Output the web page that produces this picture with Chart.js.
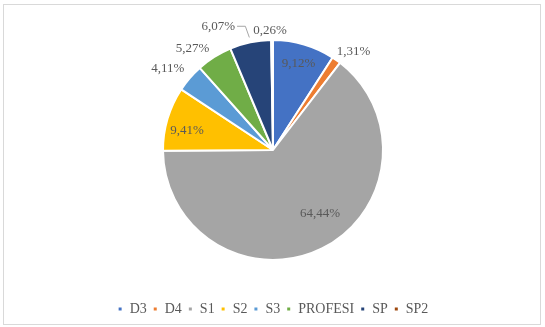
<!DOCTYPE html>
<html>
<head>
<meta charset="utf-8">
<script src="https://cdn.jsdelivr.net/npm/chart.js@4.4.1/dist/chart.umd.min.js"></script>
<style>
  html, body { margin: 0; padding: 0; background: #fff; }
  #wrap { position: relative; width: 545px; height: 327px; }
</style>
</head>
<body>
<div id="wrap"><canvas id="pie"></canvas></div>
<script>
// data
const categories = ['D3', 'D4', 'S1', 'S2', 'S3', 'PROFESI', 'SP', 'SP2'];
const shares = [9.12, 1.31, 64.44, 9.41, 4.11, 5.27, 6.07, 0.26];
const shareLabels = ['9,12%', '1,31%', '64,44%', '9,41%', '4,11%', '5,27%', '6,07%', '0,26%'];

const colors = ['#4472C4', '#ED7D31', '#A5A5A5', '#FFC000', '#5B9BD5', '#70AD47', '#264478', '#9E480E'];
// label placement: [radius factor, angle shift in degrees] relative to slice middle
const labelPlace = [[0.82, 0], [1.16, 4], [0.72, -10], [0.8, -4], [1.21, -3], [1.18, -6], [1.23, -12], [1.09, -1]];
const leaderFor = [6]; // slices whose label gets a leader line

const FONT = '"Liberation Serif", "Times New Roman", serif';
const TEXT = '#595959';

// outer frame like the Excel chart area
const frame = {
    id: 'frame',
    beforeDraw(chart) {
        const { ctx } = chart;
        ctx.save();
        ctx.strokeStyle = '#d9d9d9';
        ctx.lineWidth = 1;
        ctx.strokeRect(3.5, 4.5, 537, 320);
        ctx.restore();
    }
};

// percentage labels around / inside the slices
const sliceLabels = {
    id: 'sliceLabels',
    afterDatasetsDraw(chart) {
        const { ctx } = chart;
        const meta = chart.getDatasetMeta(0);
        ctx.save();
        ctx.font = `13px ${FONT}`;
        ctx.fillStyle = TEXT;
        ctx.textAlign = 'center';
        ctx.textBaseline = 'middle';
        meta.data.forEach((arc, i) => {
            const { x, y, startAngle, endAngle, outerRadius } = arc.getProps(['x', 'y', 'startAngle', 'endAngle', 'outerRadius'], true);
            const mid = (startAngle + endAngle) / 2;
            const [f, shift] = labelPlace[i];
            const a = mid + shift * Math.PI / 180;
            const lx = x + Math.cos(a) * outerRadius * f;
            const ly = y + Math.sin(a) * outerRadius * f;
            ctx.fillText(shareLabels[i], lx, ly);

            if (leaderFor.includes(i)) {
                const w = ctx.measureText(shareLabels[i]).width;
                const ex = x + Math.cos(mid) * (outerRadius + 5);
                const ey = y + Math.sin(mid) * (outerRadius + 5);
                ctx.strokeStyle = '#a6a6a6';
                ctx.lineWidth = 1;
                ctx.beginPath();
                ctx.moveTo(lx + w / 2 + 2, ly);
                ctx.lineTo(ex - 4, ly);
                ctx.lineTo(ex, ey);
                ctx.stroke();
            }
        });
        ctx.restore();
    }
};

new Chart(document.getElementById('pie'), {
    type: 'pie',
    data: {
        labels: categories,
        datasets: [{
            data: shares,
            backgroundColor: colors,
            borderColor: '#ffffff',
            borderWidth: 2,
            radius: 110
        }]
    },
    options: {
        responsive: true,
        maintainAspectRatio: false,
        animation: false,
        layout: { padding: { top: 4, bottom: 1, left: 1, right: 0 } },
        plugins: {
            legend: {
                position: 'bottom',
                labels: {
                    boxWidth: 5,
                    boxHeight: 5,
                    padding: 6,
                    color: TEXT,
                    font: { family: FONT, size: 14 }
                }
            },
            tooltip: { enabled: false }
        }
    },
    plugins: [frame, sliceLabels]
});
</script>
</body>
</html>
